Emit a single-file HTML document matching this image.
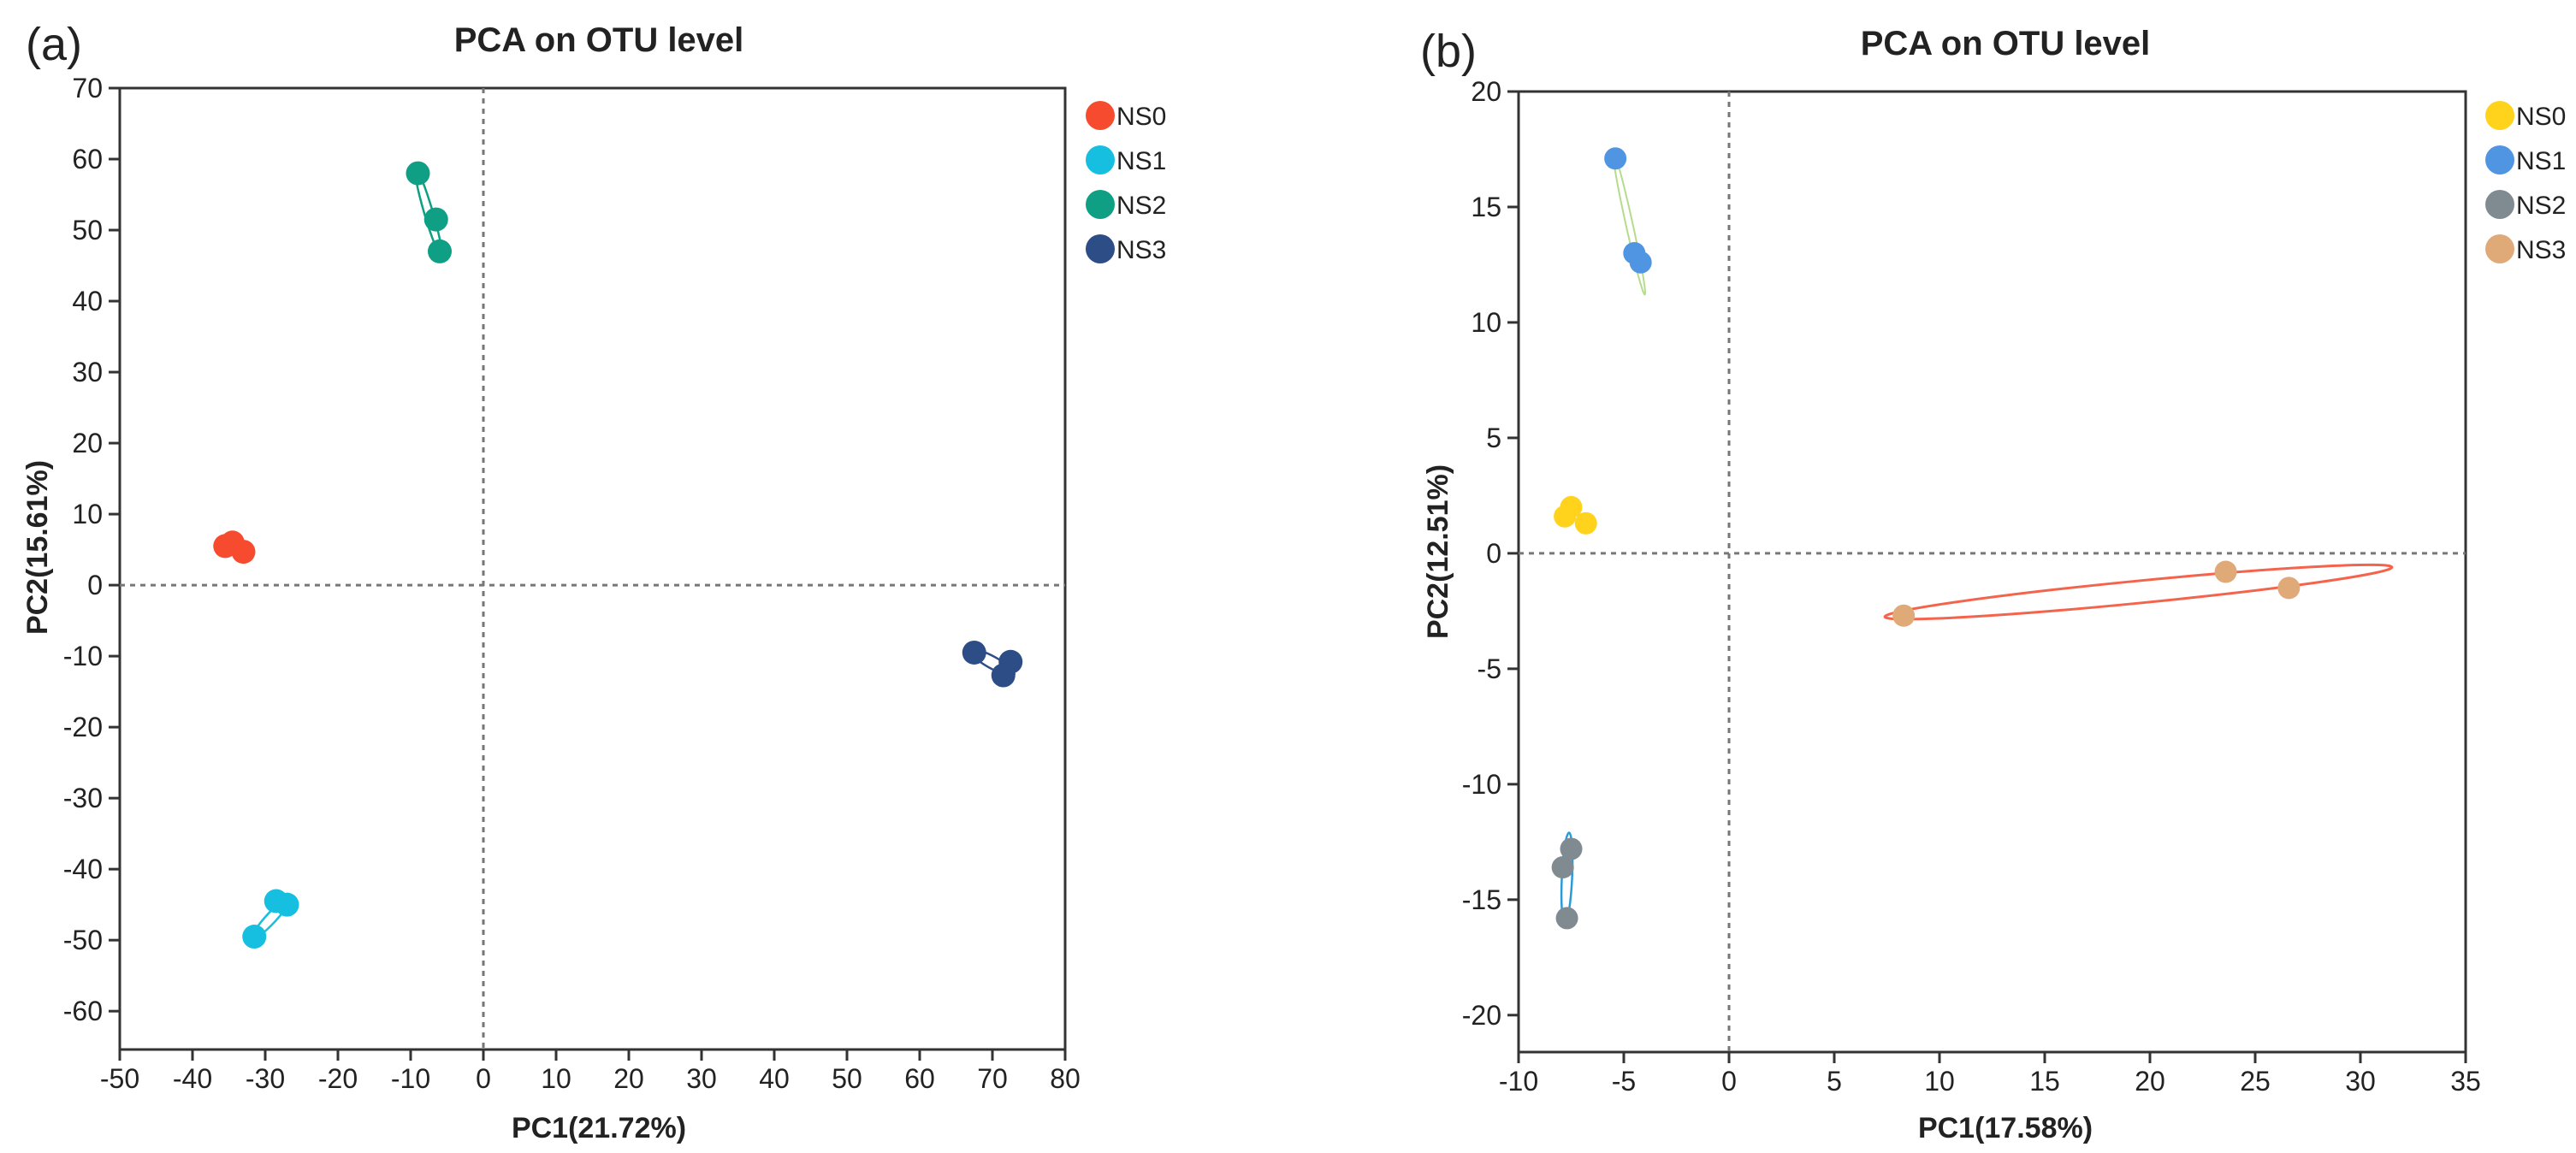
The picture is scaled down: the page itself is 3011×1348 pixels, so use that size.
<!DOCTYPE html>
<html><head><meta charset="utf-8"><style>
html,body{margin:0;padding:0;background:#fff;}
svg{display:block;font-family:"Liberation Sans",Arial,sans-serif;}
</style></head><body>
<svg id="fig" width="3011" height="1348" viewBox="0 0 3011 1348" xmlns="http://www.w3.org/2000/svg"></svg>
<script>
// ---------- Panel (a) data ----------
const groupsA = ["NS0","NS1","NS2","NS3"];
const colorsA = ["#f64b2f","#16bfdf","#0e9f84","#2c4d86"];
const ns0A_x = [-35.5,-34.5,-33]; const ns0A_y = [5.5,6,4.7];
const ns1A_x = [-31.5,-28.5,-27]; const ns1A_y = [-49.5,-44.5,-45];
const ns2A_x = [-9,-6.5,-6];      const ns2A_y = [58,51.5,47];
const ns3A_x = [67.5,72.5,71.5];  const ns3A_y = [-9.5,-10.8,-12.7];
const xTicksA = [-50,-40,-30,-20,-10,0,10,20,30,40,50,60,70,80];
const yTicksA = [70,60,50,40,30,20,10,0,-10,-20,-30,-40,-50,-60];
// ---------- Panel (b) data ----------
const groupsB = ["NS0","NS1","NS2","NS3"];
const colorsB = ["#ffd21c","#4f95e2","#7f8a91","#dfaa78"];
const ns0B_x = [-7.8,-7.5,-6.8]; const ns0B_y = [1.6,2.0,1.3];
const ns1B_x = [-5.4,-4.5,-4.2]; const ns1B_y = [17.1,13,12.6];
const ns2B_x = [-7.9,-7.5,-7.7]; const ns2B_y = [-13.6,-12.8,-15.8];
const ns3B_x = [8.3,23.6,26.6];  const ns3B_y = [-2.7,-0.8,-1.5];
const xTicksB = [-10,-5,0,5,10,15,20,25,30,35];
const yTicksB = [20,15,10,5,0,-5,-10,-15,-20];

const NS="http://www.w3.org/2000/svg";
const svg=document.getElementById('fig');
function mk(tag,attrs,parent,text){const e=document.createElementNS(NS,tag);for(const k in attrs)e.setAttribute(k,attrs[k]);if(text!==undefined)e.textContent=text;(parent||svg).appendChild(e);return e;}

function panel(cfg){
  const g=mk('g',{});
  
  
  const X=v=>cfg.x0+(v-cfg.xmin)*(cfg.x1-cfg.x0)/(cfg.xmax-cfg.xmin);
  const Y=v=>cfg.y0+(cfg.ymax-v)*(cfg.y1-cfg.y0)/(cfg.ymax-cfg.ymin);
  const fr=mk('rect',{x:cfg.x0,y:cfg.y0,width:cfg.x1-cfg.x0,height:cfg.y1-cfg.y0,fill:'none',stroke:'#333','stroke-width':3},g);
  
  
  const zv=mk('line',{x1:X(0),x2:X(0),y1:cfg.y0,y2:cfg.y1,stroke:'#777','stroke-width':3,'stroke-dasharray':'6,6'},g);
  
  
  const zh=mk('line',{x1:cfg.x0,x2:cfg.x1,y1:Y(0),y2:Y(0),stroke:'#777','stroke-width':3,'stroke-dasharray':'6,6'},g);
  
  
  cfg.xt.forEach(v=>{
    mk('line',{x1:X(v),x2:X(v),y1:cfg.y1,y2:cfg.y1+13,stroke:'#333','stroke-width':3},g);
    const t=mk('text',{x:X(v),y:cfg.y1+45,'text-anchor':'middle','font-size':32,fill:'#222'},g,String(v));
    
    
  });
  cfg.yt.forEach(v=>{
    mk('line',{x1:cfg.x0-13,x2:cfg.x0,y1:Y(v),y2:Y(v),stroke:'#333','stroke-width':3},g);
    const t=mk('text',{x:cfg.x0-20,y:Y(v)+11,'text-anchor':'end','font-size':32,fill:'#222'},g,String(v));
    
    
  });
  cfg.ell.forEach(e=>{
    const ax=X(e[0]),ay=Y(e[1]),bx=X(e[2]),by=Y(e[3]);
    const cx=(ax+bx)/2,cy=(ay+by)/2,rx=Math.hypot(bx-ax,by-ay)/2,ang=Math.atan2(by-ay,bx-ax)*180/Math.PI;
    const el=mk('ellipse',{cx:cx,cy:cy,rx:rx,ry:e[4],fill:'none',stroke:e[5],'stroke-width':e[6]||2.5,transform:`rotate(${ang} ${cx} ${cy})`},g);
    
    
  });
  cfg.series.forEach((s,i)=>{
    s[0].forEach((xv,j)=>{
      const c=mk('circle',{cx:X(xv),cy:Y(s[1][j]),r:cfg.r,fill:cfg.colors[i]},g);
      
      
    });
  });
  cfg.groups.forEach((n,i)=>{
    const c=mk('circle',{cx:cfg.lx,cy:135+52*i,r:17,fill:cfg.colors[i]},g);
    
    
    const t=mk('text',{x:cfg.lx+19,y:146+52*i,'font-size':30,fill:'#222'},g,n);
    
    
  });
  const tt=mk('text',{x:cfg.tx,y:cfg.ty,'text-anchor':'middle','font-size':40,'font-weight':'bold',fill:'#222'},g,'PCA on OTU level');
  
  
  const pl=mk('text',{x:cfg.px,y:cfg.py,'font-size':54,fill:'#222'},g,cfg.plabel);
  
  
  const xl=mk('text',{x:cfg.tx,y:1330,'text-anchor':'middle','font-size':34,'font-weight':'bold',fill:'#222'},g,cfg.xlabel);
  
  
  const yl=mk('text',{x:0,y:0,'text-anchor':'middle','font-size':34,'font-weight':'bold',fill:'#222',transform:`translate(${cfg.ylx},${cfg.yly}) rotate(-90)`},g,cfg.ylabel);
  
  
}

panel({id:'a',x0:140,x1:1245,y0:103,y1:1227,xmin:-50,xmax:80,ymin:-65.4,ymax:70,
  xt:xTicksA,yt:yTicksA,groups:groupsA,colors:colorsA,r:14,
  series:[[ns0A_x,ns0A_y],[ns1A_x,ns1A_y],[ns2A_x,ns2A_y],[ns3A_x,ns3A_y]],
  ell:[[-31.8,-49.8,-26.4,-43.8,6,colorsA[1],2.5],[-9.3,58.6,-5.8,46.4,5,colorsA[2],2.5],[67,-9.2,73,-12.6,7,colorsA[3],2.5]],
  lx:1286,tx:700,ty:60,px:30,py:70,plabel:'(a)',xlabel:'PC1(21.72%)',ylabel:'PC2(15.61%)',ylx:55,yly:640});

panel({id:'b',x0:1775,x1:2882,y0:107,y1:1230,xmin:-10,xmax:35,ymin:-21.6,ymax:20,
  xt:xTicksB,yt:yTicksB,groups:groupsB,colors:colorsB,r:13,
  series:[[ns0B_x,ns0B_y],[ns1B_x,ns1B_y],[ns2B_x,ns2B_y],[ns3B_x,ns3B_y]],
  ell:[[-5.5,17.4,-4.0,11.2,4,'#b5dc8c',2],[-7.6,-12.1,-7.8,-16.0,6,'#2b9bd8',2.5],[7.4,-2.75,31.5,-0.6,13,'#f4644c',3]],
  lx:2922,tx:2344,ty:64,px:1660,py:78,plabel:'(b)',xlabel:'PC1(17.58%)',ylabel:'PC2(12.51%)',ylx:1692,yly:645});
</script>
</body></html>
